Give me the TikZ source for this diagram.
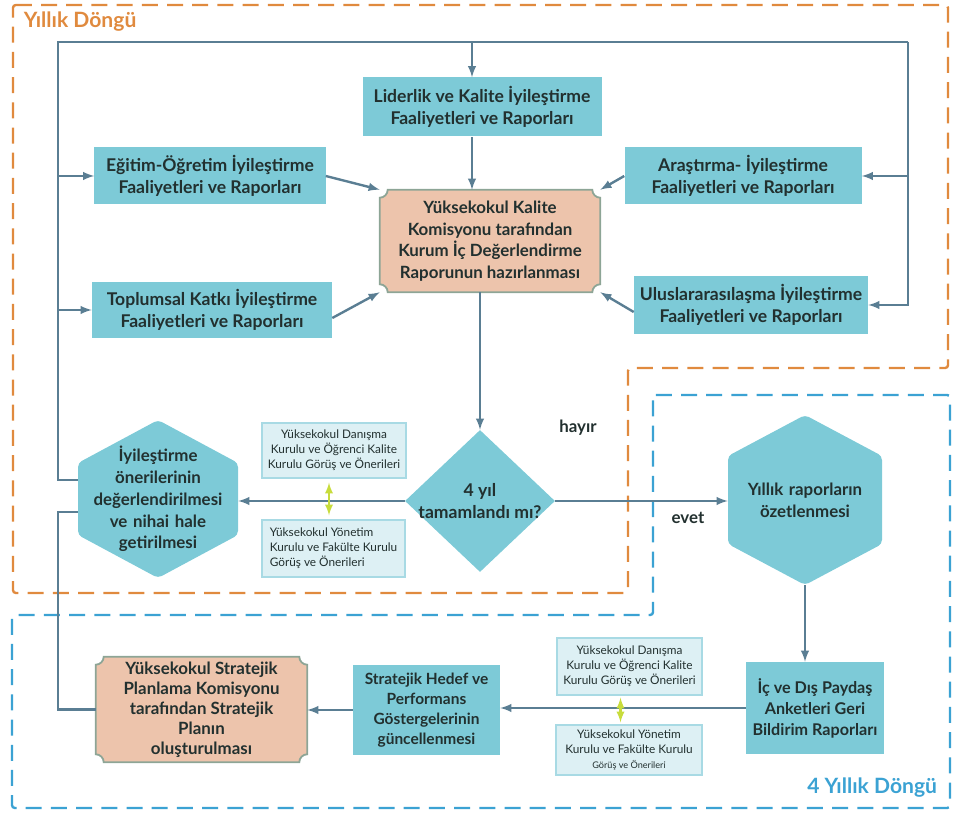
\documentclass[tikz,border=0pt]{standalone}
\usepackage{fontspec}
\setmainfont{Lato}
\usepackage{tikz}
\usetikzlibrary{shapes,arrows}
\usetikzlibrary{positioning,calc,backgrounds}

\definecolor{boxteal}{HTML}{7DCAD7}
\definecolor{salmon}{HTML}{EDC4AC}
\definecolor{salmonline}{HTML}{8DA596}
\definecolor{paleteal}{HTML}{DDF0F4}
\definecolor{paleline}{HTML}{A8DAE4}
\definecolor{flowline}{HTML}{5A7E93}
\definecolor{txtdark}{HTML}{22302F}
\definecolor{yillik}{HTML}{E08A3E}
\definecolor{dortyil}{HTML}{3BA2D3}
\definecolor{lime}{HTML}{C8DC3C}

\newcommand{\boxfont}{\fontsize{12.5}{15.5}\selectfont\bfseries}
\newcommand{\pinkfont}{\fontsize{12}{14.3}\selectfont\bfseries}
\newcommand{\notefont}{\fontsize{8.4}{10.6}\selectfont}

\tikzstyle{bluebox} = [rectangle, fill=boxteal, text=txtdark, font=\boxfont,
    align=center, inner sep=1pt]
\tikzstyle{pinkbox} = [rectangle, text=txtdark, font=\pinkfont, align=center,
    inner sep=1pt]
\tikzstyle{notebox} = [rectangle, draw=paleline, line width=1pt, fill=paleteal,
    text=txtdark, font=\notefont, align=center, inner sep=0pt]
\tikzstyle{hexnode} = [rectangle, text=txtdark, font=\boxfont, align=center,
    inner sep=0pt]
\tikzstyle{decision} = [diamond, fill=boxteal, text=txtdark,
    font=\fontsize{12.5}{15.5}\selectfont\bfseries, align=center,
    aspect=1.06, inner sep=-3mm]
\tikzstyle{flow} = [-latex, flowline, line width=1.7pt]
\tikzstyle{loopline} = [flowline, line width=1.7pt]
\tikzstyle{both} = [latex-latex, lime, line width=1.6pt]
\tikzstyle{frame} = [dash pattern=on 4mm off 2.3mm, line width=1.7pt,
    rounded corners=2pt]

\newcommand{\notchframe}[1]{%
  \begin{scope}[on background layer]
    \filldraw [fill=salmon, draw=salmonline, line width=1.3pt]
      ([xshift=2mm]#1.north west) -- ([xshift=-2mm]#1.north east)
      arc[start angle=180, end angle=270, radius=2mm]
      -- ([yshift=2mm]#1.south east)
      arc[start angle=90, end angle=180, radius=2mm]
      -- ([xshift=2mm]#1.south west)
      arc[start angle=0, end angle=90, radius=2mm]
      -- ([yshift=-2mm]#1.north west)
      arc[start angle=270, end angle=360, radius=2mm] -- cycle;
  \end{scope}}

\newcommand{\hexframe}[4]{%
  \begin{scope}[on background layer]
    \fill [boxteal, rounded corners=3pt]
      ($(#1)+(-#2,#3)$) -- ($(#1)+(0,{#3+#4})$) -- ($(#1)+(#2,#3)$)
      -- ($(#1)+(#2,-#3)$) -- ($(#1)+(0,{-#3-#4})$) -- ($(#1)+(-#2,-#3)$)
      -- cycle;
  \end{scope}}

\begin{document}
\begin{tikzpicture}[x=0.25mm, y=0.25mm]
  \useasboundingbox (0,0) rectangle (954,826);

  \draw [frame, yillik] (13,821) -- (948,821) -- (948,458) -- (628,458)
    -- (628,233) -- (13,233) -- cycle;
  \draw [frame, dortyil] (653,431) -- (950,431) -- (950,18) -- (12,18)
    -- (12,211) -- (653,211) -- cycle;
  \node [anchor=west, text=yillik, font=\fontsize{15}{17}\selectfont\bfseries]
    (yillikbaslik) at (19,804) {Yıllık Döngü};
  \node [anchor=east, text=dortyil, font=\fontsize{15}{17}\selectfont\bfseries]
    (dortbaslik) at (942,38) {4 Yıllık Döngü};

  \node [bluebox, minimum width=59.75mm, minimum height=14.75mm] (lider)
    at (482,719) {Liderlik ve Kalite İyileştirme\\Faaliyetleri ve Raporları};
  \node [bluebox, minimum width=57.75mm, minimum height=14.25mm] (egitim)
    at (210,650) {Eğitim-Öğretim İyileştirme\\Faaliyetleri ve Raporları};
  \node [bluebox, minimum width=59.25mm, minimum height=14.25mm,
    right of=egitim, node distance=133.25mm] (arastirma)
    {Araştırma- İyileştirme\\Faaliyetleri ve Raporları};
  \node [bluebox, minimum width=60mm, minimum height=14mm, below of=egitim,
    xshift=0.5mm, node distance=33.5mm] (toplum)
    {Toplumsal Katkı İyileştirme\\Faaliyetleri ve Raporları};
  \node [bluebox, minimum width=58.5mm, minimum height=14.5mm,
    below of=arastirma, xshift=2mm, node distance=32.25mm] (ulus)
    {Uluslararasılaşma İyileştirme\\Faaliyetleri ve Raporları};
  \node [pinkbox, font=\fontsize{12}{15.3}\selectfont\bfseries,
    minimum width=55mm, minimum height=25.5mm] (kom)
    at (490,585) {Yüksekokul Kalite\\Komisyonu tarafından\\Kurum İç Değerlendirme\\Raporunun hazırlanması};
  \notchframe{kom}

  \node [decision, minimum width=37.5mm, minimum height=35.5mm] (karar)
    at (480,325) {4 yıl\\tamamlandı mı?};
  \node [hexnode, font=\fontsize{12}{15.5}\selectfont\bfseries, text width=36mm,
    minimum width=40mm, minimum height=39.5mm]
    (iyil) at (158,327) {İyileştirme\\önerilerinin\\değerlendirilmesi\\ve nihai hale\\getirilmesi};
  \hexframe{iyil}{80}{36}{43}
  \node [hexnode, font=\fontsize{12}{15.5}\selectfont\bfseries, text width=34mm,
    minimum width=38.5mm, minimum height=42.5mm]
    (ozet) at (805,326) {Yıllık raporların\\özetlenmesi};
  \hexframe{ozet}{77}{44}{41}

  \node [notebox, minimum width=36mm, minimum height=13.75mm] (dk1)
    at (334,375.5) {Yüksekokul Danışma\\Kurulu ve Öğrenci Kalite\\Kurulu Görüş ve Önerileri};
  \node [notebox, align=left, minimum width=35.75mm, minimum height=14.25mm] (yk1)
    at (333.5,277.5) {Yüksekokul Yönetim\\Kurulu ve Fakülte Kurulu\\Görüş ve Önerileri};
  \node [notebox, minimum width=36.25mm, minimum height=14.25mm] (dk2)
    at (629.5,159.5) {Yüksekokul Danışma\\Kurulu ve Öğrenci Kalite\\Kurulu Görüş ve Önerileri};
  \node [notebox, minimum width=36.5mm, minimum height=12.5mm] (yk2)
    at (629,76) {Yüksekokul Yönetim\\Kurulu ve Fakülte Kurulu\\{\fontsize{6.5}{9}\selectfont Görüş ve Önerileri}};

  \node [bluebox, font=\fontsize{11.5}{15}\selectfont\bfseries,
    minimum width=34.5mm, minimum height=23mm] (paydas)
    at (815,118) {İç ve Dış Paydaş\\Anketleri Geri\\Bildirim Raporları};
  \node [bluebox, font=\fontsize{11}{14.3}\selectfont\bfseries,
    minimum width=36.75mm, minimum height=22.5mm] (hedef)
    at (426.5,116) {Stratejik Hedef ve\\Performans\\Göstergelerinin\\güncellenmesi};
  \node [pinkbox, minimum width=52.75mm, minimum height=26.25mm] (plan)
    at (201.5,116.5) {Yüksekokul Stratejik\\Planlama Komisyonu\\tarafından Stratejik\\Planın\\oluşturulması};
  \notchframe{plan}

  \node [text=txtdark, font=\fontsize{12}{14}\selectfont\bfseries] (hayir)
    at (578,398) {hayır};
  \node [text=txtdark, font=\fontsize{12}{14}\selectfont\bfseries] (evet)
    at (688,308) {evet};

  \coordinate (loopTL) at (58,784);
  \coordinate (loopTR) at (908,784);
  \coordinate (loopBL) at (loopTL |- plan.west);

  \draw [loopline] ([yshift=4.75mm]iyil.west) -| (loopTL) -- (loopTR);
  \draw [flow] (loopTR) |- (ulus.east);
  \draw [flow] (loopTR |- arastirma.east) -- (arastirma.east);
  \draw [flow] (loopTL |- egitim.west) -- (egitim.west);
  \draw [flow] (loopTL |- toplum.west) -- (toplum.west);
  \draw [flow] ([xshift=-2.5mm]lider.north |- loopTL) -- ([xshift=-2.5mm]lider.north);
  \draw [loopline] ([yshift=-3.25mm]iyil.west) -| (loopBL) -- (plan.west);

  \draw [flow] ([xshift=-2.5mm]lider.south) -- ([xshift=-2.5mm]lider.south |- kom.north);
  \draw [flow] (egitim.east) -- (kom.north west);
  \draw [flow] (arastirma.west) -- (kom.north east);
  \draw [flow] ([yshift=-2mm]toplum.east) -- (kom.south west);
  \draw [flow] ([yshift=-1.75mm]ulus.west) -- (kom.south east);
  \draw [flow] (karar.north |- kom.south) -- (karar.north);
  \draw [flow] (karar.west) -- (karar.west -| iyil.east);
  \draw [flow] (karar.east) -- (karar.east -| ozet.west);
  \draw [flow] (ozet.south) -- (ozet.south |- paydas.north);
  \draw [flow] (paydas.west) -- (paydas.west -| hedef.east);
  \draw [flow] (hedef.west) -- (hedef.west -| plan.east);
  \draw [both] ([xshift=-1.25mm, yshift=-1mm]dk1.south) -- ([xshift=-1.25mm, yshift=1mm]dk1.south |- yk1.north);
  \draw [both] ([xshift=-2.25mm, yshift=-0.5mm]dk2.south) -- ([xshift=-2.25mm, yshift=0.5mm]dk2.south |- yk2.north);
\end{tikzpicture}
\end{document}
